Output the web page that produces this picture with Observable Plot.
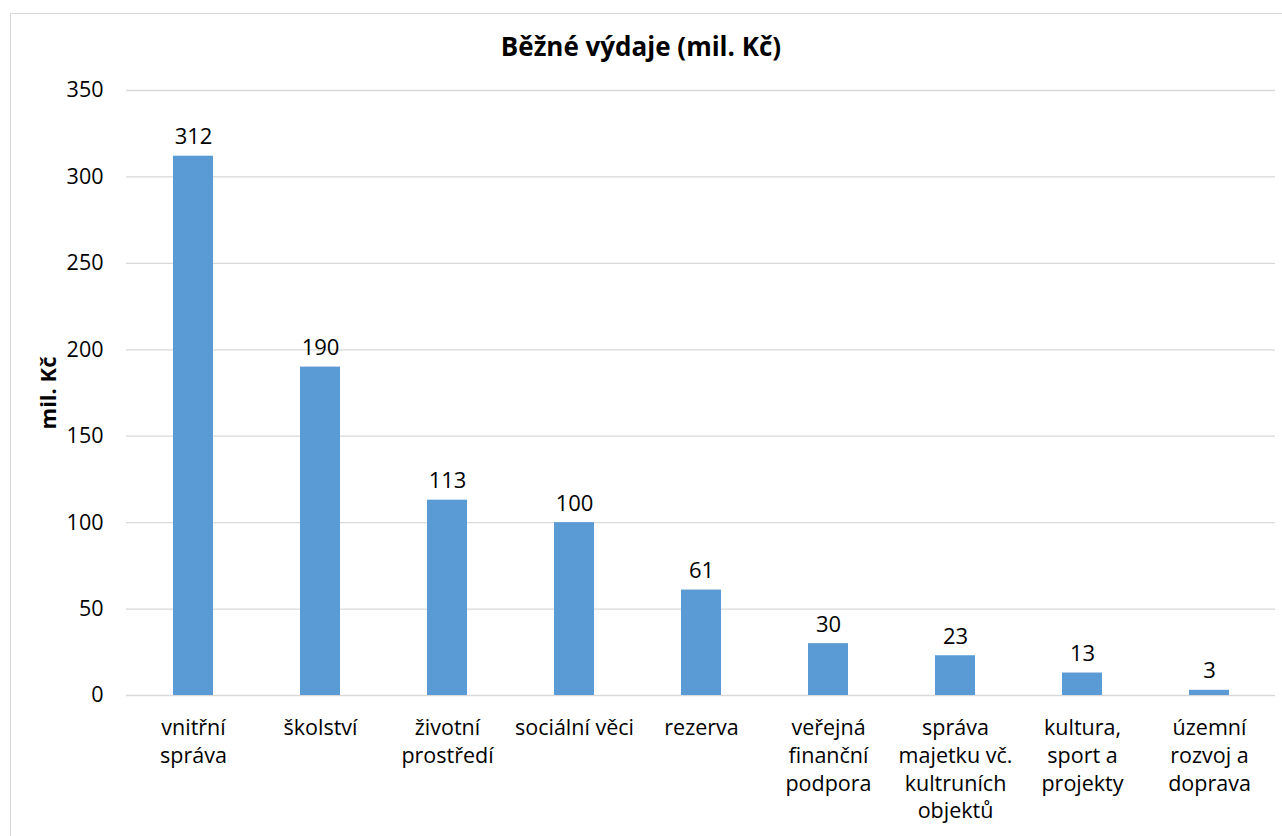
<!DOCTYPE html>
<html>
<head>
<meta charset="utf-8">
<script src="https://cdn.jsdelivr.net/npm/d3@7"></script>
<script src="https://cdn.jsdelivr.net/npm/@observablehq/plot@0.6"></script>
<style>
  html, body { margin: 0; padding: 0; background: #fff; }
  body { width: 1282px; height: 836px; position: relative; overflow: hidden; font-family: "Open Sans", sans-serif; }
  #frame { position: absolute; left: 10px; top: 13px; width: 1300px; height: 900px; border: 1px solid #d9d9d9; box-sizing: border-box; }
  #title { position: absolute; left: 0; top: 0; width: 1282px; height: 70px; text-align: center; font-family: "Open Sans", sans-serif; font-weight: bold; font-size: 26px; line-height: 92px; color: #000; }
  #chart { position: absolute; left: 0; top: 70px; }
</style>
</head>
<body>
<div id="frame"></div>
<div id="title">Běžné výdaje (mil. Kč)</div>
<div id="chart"></div>
<script>
const categories = ["vnitřní správa", "školství", "životní prostředí", "sociální věci", "rezerva", "veřejná finanční podpora", "správa majetku vč. kultruních objektů", "kultura, sport a projekty", "územní rozvoj a doprava"];
const tickLabels = ["vnitřní\nspráva", "školství", "životní\nprostředí", "sociální věci", "rezerva", "veřejná\nfinanční\npodpora", "správa\nmajetku vč.\nkultruních\nobjektů", "kultura,\nsport a\nprojekty", "územní\nrozvoj a\ndoprava"];
const values = [312, 190, 113, 100, 61, 30, 23, 13, 3];
const yTicks = [0, 50, 100, 150, 200, 250, 300, 350];

const data = categories.map((c, i) => ({category: c, value: values[i]}));
const labelOf = new Map(categories.map((c, i) => [c, tickLabels[i]]));

const chart = Plot.plot({
  width: 1282,
  height: 766,
  marginTop: 20,
  marginBottom: 141,
  marginLeft: 126,
  marginRight: 7,
  style: {fontFamily: "Open Sans, sans-serif", color: "#000", background: "transparent"},
  x: {domain: categories, paddingInner: 0.687, paddingOuter: 0.3435, label: null},
  y: {domain: [0, 350], label: null},
  marks: [
    Plot.ruleY(yTicks, {stroke: "#d9d9d9", strokeWidth: 1.3}),
    Plot.barY(data, {x: "category", y: "value", fill: "#5b9bd5"}),
    Plot.text(data, {x: "category", y: "value", text: d => String(d.value), dy: -12, lineAnchor: "bottom", fontSize: 22, fill: "#000"}),
    Plot.axisY(yTicks, {tickSize: 0, tickPadding: 23, fontSize: 21.5, fill: "#000", label: null}),
    Plot.axisX({tickSize: 0, tickPadding: 20, fontSize: 21.5, fill: "#000", lineHeight: 1.29, tickFormat: d => labelOf.get(d), label: null}),
    Plot.text(["mil. Kč"], {frameAnchor: "left", textAnchor: "middle", dx: -78, rotate: -90, fontWeight: "bold", fontSize: 22, fill: "#000"})
  ]
});
document.getElementById("chart").appendChild(chart);
</script>
</body>
</html>
